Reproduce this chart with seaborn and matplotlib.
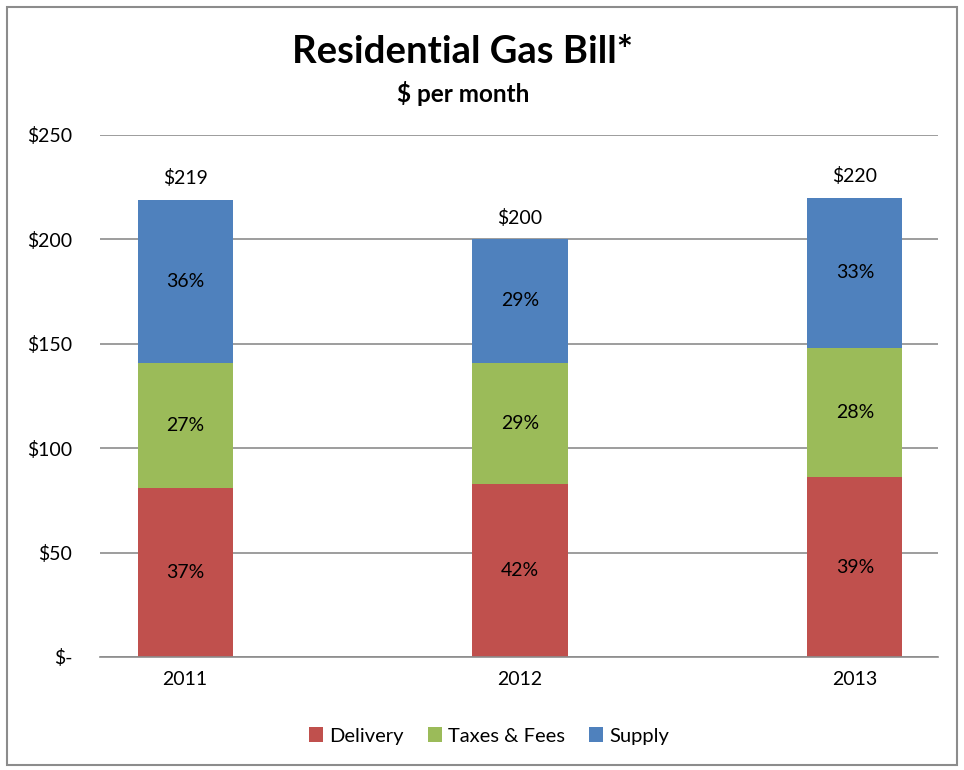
import numpy as np
import pandas as pd
import matplotlib
matplotlib.use("Agg")
import matplotlib.pyplot as plt
import seaborn as sns
from matplotlib.patches import Rectangle

years = ["2011", "2012", "2013"]
delivery = [81, 83, 86]
taxes = [60, 58, 62]
supply = [78, 59, 72]
totals = ["$219", "$200", "$220"]
delivery_pct = ["37%", "42%", "39%"]
taxes_pct = ["27%", "29%", "28%"]
supply_pct = ["36%", "29%", "33%"]
series_names = ["Delivery", "Taxes & Fees", "Supply"]
colors = ["#C0504D", "#9BBB59", "#4F81BD"]
yticks = [0, 50, 100, 150, 200, 250]
ytick_labels = ["$-", "$50", "$100", "$150", "$200", "$250"]

sns.set_theme(style="white")
plt.rcParams["font.family"] = ["Lato", "DejaVu Sans"]
plt.rcParams["text.color"] = "black"
plt.rcParams["xtick.color"] = "black"
plt.rcParams["ytick.color"] = "black"

fig = plt.figure(figsize=(9.64, 7.70), dpi=100)
W, H = 964, 770
ax = fig.add_axes([100 / W, 1 - 657 / H, 838 / W, (657 - 135) / H])

series = [delivery, taxes, supply]
labels = [delivery_pct, taxes_pct, supply_pct]
bottom = np.zeros(len(years))
for vals, name, col, lab in zip(series, series_names, colors, labels):
    df = pd.DataFrame({"year": years, "value": vals})
    sns.barplot(data=df, x="year", y="value", color=col, width=0.284,
                bottom=bottom, ax=ax, label=name, saturation=1,
                edgecolor="none", linewidth=0)
    for i, v in enumerate(vals):
        ax.text(i, bottom[i] + v / 2, lab[i], ha="center", va="center",
                fontsize=14, color="black")
    bottom = bottom + np.array(vals)

for i, t in enumerate(totals):
    ax.text(i, bottom[i] + 6, t, ha="center", va="bottom", fontsize=14,
            color="black")

ax.set_xlim(-0.254, 2.248)
ax.set_ylim(0, 250)
ax.set_yticks(yticks)
ax.set_yticklabels(ytick_labels, fontsize=14)
ax.tick_params(axis="x", labelsize=14, pad=10, length=0, labelcolor="black")
ax.tick_params(axis="y", pad=20, length=0, labelcolor="black")
for lbl in ax.get_yticklabels():
    lbl.set_horizontalalignment("right")
ax.yaxis.grid(True, color="#8c8c8c", linewidth=1.2)
ax.set_axisbelow(True)
for s in ["left", "right", "top"]:
    ax.spines[s].set_visible(False)
ax.spines["bottom"].set_color("#8c8c8c")
ax.spines["bottom"].set_linewidth(1.2)
ax.set_xlabel("")
ax.set_ylabel("")

leg = ax.legend(loc="center", bbox_to_anchor=(489 / W, 1 - 736 / H),
                bbox_transform=fig.transFigure, ncol=3, frameon=False,
                fontsize=14.5, handlelength=0.7, handleheight=0.7,
                handletextpad=0.3, columnspacing=1.2, labelcolor="black")

fig.text(462 / W, 1 - 52 / H, "Residential Gas Bill*", ha="center", va="center",
         fontsize=27.5, fontweight="bold", color="black")
fig.text(463 / W, 1 - 93 / H, "$ per month", ha="center", va="center",
         fontsize=17.5, fontweight="bold", color="black")

fig.patches.append(Rectangle((7 / W, 1 - 765 / H), (957 - 7) / W, (765 - 7) / H,
                             transform=fig.transFigure, fill=False,
                             edgecolor="#8c8c8c", linewidth=1.5))

fig.savefig("out.png", dpi=100, facecolor="white")
